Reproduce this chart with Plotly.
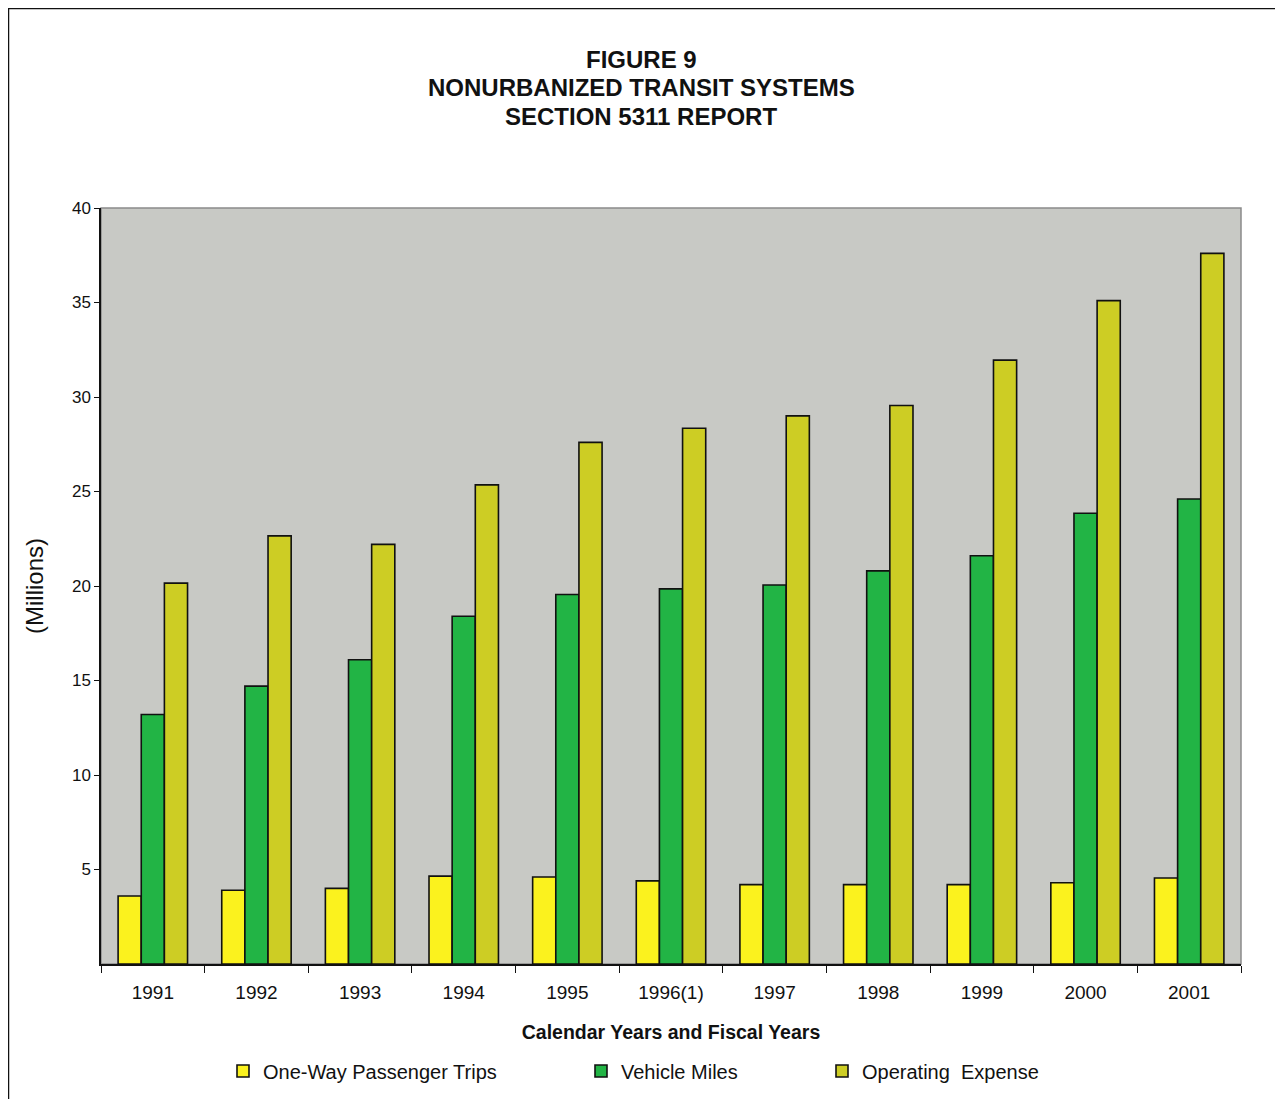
import plotly.graph_objects as go

years = ["1991", "1992", "1993", "1994", "1995", "1996(1)", "1997", "1998", "1999", "2000", "2001"]
passenger_trips = [3.6, 3.9, 4.0, 4.65, 4.6, 4.4, 4.2, 4.2, 4.2, 4.3, 4.55]
vehicle_miles = [13.2, 14.7, 16.1, 18.4, 19.55, 19.85, 20.05, 20.8, 21.6, 23.85, 24.6]
operating_expense = [20.15, 22.65, 22.2, 25.35, 27.6, 28.35, 29.0, 29.55, 31.95, 35.1, 37.6]

title_lines = ["FIGURE 9", "NONURBANIZED TRANSIT SYSTEMS", "SECTION 5311 REPORT"]
series_names = ["One-Way Passenger Trips", "Vehicle Miles", "Operating\u00a0 Expense"]
series_colors = ["#fbf21e", "#22b445", "#cdcd24"]
y_ticks = [5, 10, 15, 20, 25, 30, 35, 40]

# page has an 8px body margin; work in screen pixels and convert
OFF = 8
W, H = 1283 - OFF - 2, 1115 - 2 * OFF - 8
L, T = 101 - OFF, 208 - OFF
R = W - (1241 - OFF)
B = H - (964 - OFF)
pw, ph = W - L - R, H - T - B

def px_x(x):
    return (x - OFF - L) / pw

def px_y(y):
    return (H - B - (y - OFF)) / ph

FONT = "Liberation Sans, Arial, sans-serif"

fig = go.Figure()
data = [passenger_trips, vehicle_miles, operating_expense]
legend_ids = ["legend", "legend2", "legend3"]
for name, vals, col, lg in zip(series_names, data, series_colors, legend_ids):
    fig.add_trace(go.Bar(
        x=years, y=vals, name=name, legend=lg, showlegend=True,
        marker=dict(color=col, line=dict(color="#111111", width=1.6)),
    ))

legend_common = dict(orientation="h", yanchor="middle", y=px_y(1071), xanchor="left",
                     font=dict(family=FONT, size=20, color="#111111"),
                     bgcolor="rgba(0,0,0,0)", itemwidth=30)

title_y = [60, 88, 117]
annotations = [
    dict(text=f"<b>{t}</b>", xref="paper", yref="paper", x=px_x(641), y=px_y(yy),
         xanchor="center", yanchor="middle", showarrow=False,
         font=dict(family=FONT, size=24, color="#111111"))
    for t, yy in zip(title_lines, title_y)
]

fig.update_layout(
    width=W, height=H,
    margin=dict(l=L, r=R, t=T, b=B, autoexpand=False),
    paper_bgcolor="white",
    plot_bgcolor="#c8c9c5",
    barmode="group", bargap=0.33, bargroupgap=0,
    showlegend=True,
    annotations=annotations,
    legend=dict(legend_common, x=px_x(223)),
    legend2=dict(legend_common, x=px_x(581)),
    legend3=dict(legend_common, x=px_x(822)),
    xaxis=dict(
        showgrid=False, showline=True, linecolor="#111111", linewidth=1.5,
        ticks="outside", tickson="boundaries", ticklen=7, tickcolor="#111111",
        ticklabelstandoff=10,
        tickfont=dict(family=FONT, size=19, color="#111111"),
        title=dict(text="<b>Calendar Years and Fiscal Years</b>", standoff=24,
                   font=dict(family=FONT, size=19.5, color="#111111")),
    ),
    yaxis=dict(
        range=[0, 40], tickvals=y_ticks, showgrid=False, zeroline=False,
        showline=True, linecolor="#111111", linewidth=1.5,
        ticks="outside", ticklen=5, tickcolor="#111111",
        tickfont=dict(family=FONT, size=17, color="#111111"),
        title=dict(text="(Millions)", standoff=22,
                   font=dict(family=FONT, size=24, color="#111111")),
    ),
    shapes=[
        dict(type="rect", xref="paper", yref="paper", x0=0, x1=1, y0=0, y1=1,
             line=dict(color="#8a8a8a", width=1.5), layer="below"),
        dict(type="rect", xref="paper", yref="paper",
             x0=px_x(8), x1=px_x(1279), y0=px_y(1140), y1=px_y(8),
             line=dict(color="#111111", width=2.5), layer="above"),
    ],
)

fig.write_html("out.html")
